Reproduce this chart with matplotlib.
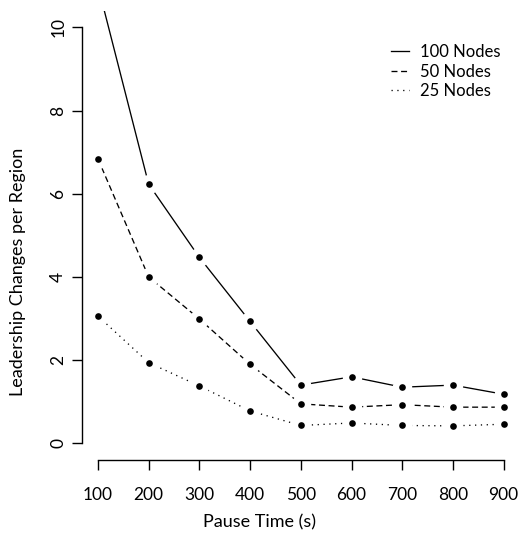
import matplotlib
matplotlib.use("Agg")
import matplotlib.pyplot as plt
from matplotlib.lines import Line2D

plt.rcParams['font.family'] = ['Lato', 'DejaVu Sans']
plt.rcParams['lines.scale_dashes'] = False

# Leadership changes per region vs. pause time
pause_time = [100, 200, 300, 400, 500, 600, 700, 800, 900]
nodes_100 = [11.0, 6.23, 4.47, 2.93, 1.40, 1.60, 1.35, 1.40, 1.18]
nodes_50 = [6.84, 4.00, 2.99, 1.90, 0.95, 0.87, 0.93, 0.87, 0.87]
nodes_25 = [3.06, 1.94, 1.38, 0.78, 0.43, 0.49, 0.43, 0.42, 0.46]

series = [
    ("100 Nodes", nodes_100, '-'),
    ("50 Nodes", nodes_50, (0, (4.3, 2.6))),
    ("25 Nodes", nodes_25, (0, (0.9, 3.3))),
]
x_ticks = [100, 200, 300, 400, 500, 600, 700, 800, 900]
y_ticks = [0, 2, 4, 6, 8, 10]

W, H = 519, 544
fig = plt.figure(figsize=(W / 100, H / 100), dpi=100)
ax = fig.add_axes([81.7 / W, (H - 460) / H, (519.9 - 81.7) / W, (460 - 10.7) / H])

lw = 0.95
handles = []
for label, values, ls in series:
    ax.plot(pause_time, values, color='black', lw=lw, linestyle=ls,
            dash_capstyle='butt', zorder=2)
    # white halo leaves a gap between the line and each point
    ax.plot(pause_time, values, linestyle='none', marker='o', ms=14.0,
            mfc='white', mec='none', zorder=3)
    ax.plot(pause_time, values, linestyle='none', marker='o', ms=4.8,
            mfc='black', mec='none', zorder=4)
    handles.append(Line2D([0], [0], color='black', lw=lw, linestyle=ls,
                          dash_capstyle='butt'))

ax.set_xlim(68, 932)
ax.set_ylim(-0.4, 10.4)

for side in ('top', 'right'):
    ax.spines[side].set_visible(False)
ax.spines['left'].set_bounds(0, 10)
ax.spines['bottom'].set_bounds(100, 900)
for side in ('left', 'bottom'):
    ax.spines[side].set_linewidth(1.0)

ax.set_xticks(x_ticks)
ax.set_yticks(y_ticks)
ax.set_xticklabels([str(v) for v in x_ticks])
ax.set_yticklabels([str(v) for v in y_ticks], rotation=90, va='center')
ax.tick_params(axis='both', direction='out', length=7.2, width=1.0,
               labelsize=12.5)
ax.tick_params(axis='x', pad=12)
ax.tick_params(axis='y', pad=4)

ax.set_xlabel("Pause Time (s)", fontsize=13)
ax.set_ylabel("Leadership Changes per Region", fontsize=13)
ax.xaxis.set_label_coords(0.5, (H - 514) / H, transform=fig.transFigure)
ax.yaxis.set_label_coords(26 / W, 0.5, transform=fig.transFigure)
ax.yaxis.label.set_verticalalignment('bottom')
ax.yaxis.label.set_y(0.5)

ax.legend(handles, [s[0] for s in series], loc='upper right',
          bbox_to_anchor=(0.972, 0.940), frameon=False, fontsize=12,
          handlelength=1.1, handletextpad=0.66, labelspacing=0.2,
          borderaxespad=0)

fig.savefig("out.png", dpi=100)
